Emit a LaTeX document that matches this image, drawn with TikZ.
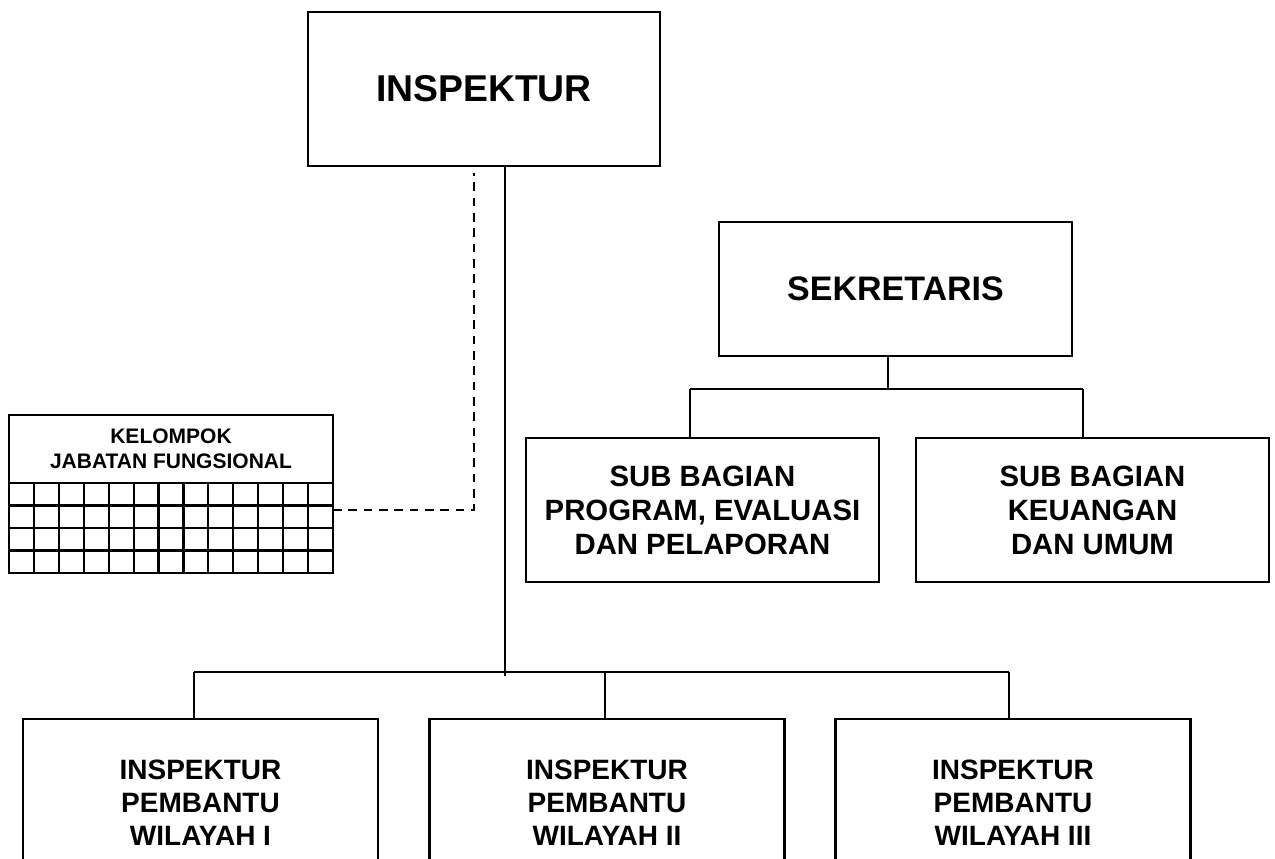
\documentclass[tikz,border=0pt]{standalone}
\usepackage{fontspec}
\setmainfont{Liberation Sans}
\usepackage{tikz}
\usetikzlibrary{positioning}

\tikzset{
  kotak/.style={draw, line width=1.8pt, align=center, inner sep=0pt, outer sep=0pt},
  garis/.style={line width=1.6pt},
  putus/.style={line width=1.6pt, dash pattern=on 6.5pt off 5pt},
  hurufA/.style={font=\fontsize{28}{30}\selectfont\bfseries},
  hurufB/.style={font=\fontsize{25.5}{28}\selectfont\bfseries},
  hurufC/.style={font=\fontsize{22}{25.5}\selectfont\bfseries},
  hurufD/.style={font=\fontsize{21}{24.75}\selectfont\bfseries},
  hurufE/.style={font=\fontsize{15.75}{18.75}\selectfont\bfseries},
}

\begin{document}
\begin{tikzpicture}[x=0.75pt, y=-0.75pt]
                \useasboundingbox (0,0) rectangle (1275,859);
                \clip (0,0) rectangle (1275,859);

                % kepala dan sekretariat
                \node[kotak, hurufA, minimum width=264pt, minimum height=115.5pt] (insp) at (484,89) {INSPEKTUR};
                \node[kotak, hurufB, minimum width=264.75pt, minimum height=100.5pt] (sekr) at (895.5,289) {SEKRETARIS};
                \node[kotak, hurufC, minimum width=264.75pt, minimum height=108pt] (subprog) at (702.5,510) {SUB BAGIAN\\PROGRAM, EVALUASI\\DAN PELAPORAN};
                \node[kotak, hurufC, minimum width=264.75pt, minimum height=108pt] (subkeu) at (1092.5,510) {SUB BAGIAN\\KEUANGAN\\DAN UMUM};

                % kelompok jabatan fungsional
                \node[kotak, hurufE, minimum width=243pt, minimum height=51pt] (jafung) at (171,449) {KELOMPOK\\JABATAN FUNGSIONAL};
                \draw[kotak] (jafung.south west) rectangle ++(324,90);
                \foreach \i in {1,...,12} {
                        \draw[garis] (9+\i*24.923,483) -- ++(0,90);
                    }
                \foreach \j in {1,2,3} {
                        \draw[garis] (9,483+\j*22.5) -- ++(324,0);
                    }

                % inspektur pembantu
                \node[kotak, hurufD, minimum width=266.25pt, minimum height=126pt] (irban1) at (200.5,803) {INSPEKTUR\\PEMBANTU\\WILAYAH I};
                \node[kotak, hurufD, minimum width=266.25pt, minimum height=126pt] (irban2) at (607,803) {INSPEKTUR\\PEMBANTU\\WILAYAH II};
                \node[kotak, hurufD, minimum width=266.25pt, minimum height=126pt] (irban3) at (1013,803) {INSPEKTUR\\PEMBANTU\\WILAYAH III};

                \coordinate (mbus) at (505,676);
                \coordinate (b1) at (194,672);
                \coordinate (b2) at (605,672);
                \coordinate (b3) at (1009,672);
                \coordinate (sbus) at (888,389);
                \coordinate (s1) at (690,389);
                \coordinate (s2) at (1083,389);
                \coordinate (jfr) at (333,510);
                \coordinate (dtop) at (474,173);

                \draw[garis] (insp.south -| mbus) -- (mbus);
                \draw[garis] (b1) -- (b3);
                \foreach \b/\n in {b1/irban1, b2/irban2, b3/irban3} {
                        \draw[garis] (\b) -- (\b |- \n.north);
                    }

                \draw[garis] (sekr.south -| sbus) -- (sbus);
                \draw[garis] (s1) -- (s2);
                \draw[garis] (s1) -- (s1 |- subprog.north);
                \draw[garis] (s2) -- (s2 |- subkeu.north);

                \draw[putus] (jfr) -| (dtop);
            \end{tikzpicture}
\end{document}
